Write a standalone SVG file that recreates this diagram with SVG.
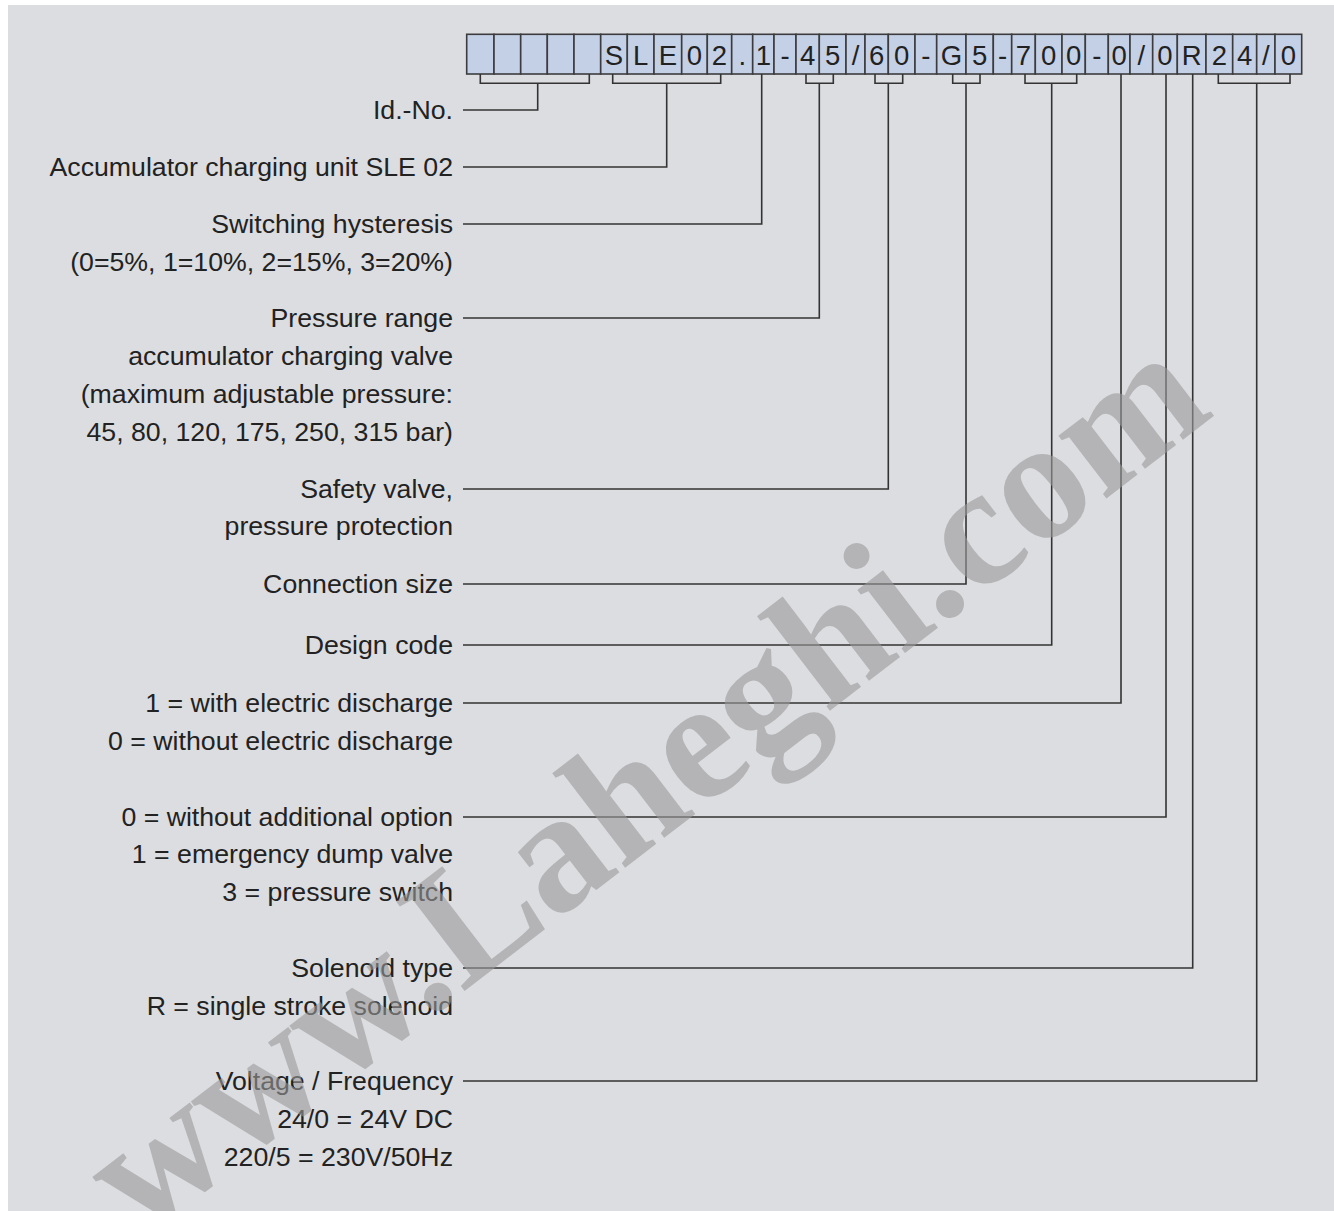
<svg xmlns="http://www.w3.org/2000/svg" width="1334" height="1211" viewBox="0 0 1334 1211">
<style>
.cell{fill:#c4d0e5;stroke:#3c3c3e;stroke-width:1.6}
.ch{font-family:"Liberation Sans",Arial,sans-serif;font-size:27.5px;fill:#222;text-anchor:middle}
.lbl{font-family:"Liberation Sans",Arial,sans-serif;font-size:26.7px;fill:#222;text-anchor:end}
.ln{fill:none;stroke:#333;stroke-width:1.6}
.wm{font-family:"Liberation Serif","Times New Roman",serif;font-weight:bold;font-size:172px;fill:#9a9a9a;fill-opacity:0.6}
</style>
<rect x="8" y="5" width="1326" height="1206" fill="#dcdde0"/>
<g id="code">
<rect class="cell" x="466.7" y="34.3" width="27.3" height="39.7"/>
<rect class="cell" x="494" y="34.3" width="26.7" height="39.7"/>
<rect class="cell" x="520.7" y="34.3" width="26.6" height="39.7"/>
<rect class="cell" x="547.3" y="34.3" width="26.7" height="39.7"/>
<rect class="cell" x="574" y="34.3" width="26.7" height="39.7"/>
<rect class="cell" x="600.7" y="34.3" width="26.6" height="39.7"/>
<rect class="cell" x="627.3" y="34.3" width="26.7" height="39.7"/>
<rect class="cell" x="654" y="34.3" width="27.7" height="39.7"/>
<rect class="cell" x="681.7" y="34.3" width="25.6" height="39.7"/>
<rect class="cell" x="707.3" y="34.3" width="24.4" height="39.7"/>
<rect class="cell" x="731.7" y="34.3" width="21" height="39.7"/>
<rect class="cell" x="752.7" y="34.3" width="21.3" height="39.7"/>
<rect class="cell" x="774" y="34.3" width="22" height="39.7"/>
<rect class="cell" x="796" y="34.3" width="23.3" height="39.7"/>
<rect class="cell" x="819.3" y="34.3" width="26.7" height="39.7"/>
<rect class="cell" x="846" y="34.3" width="19" height="39.7"/>
<rect class="cell" x="865" y="34.3" width="23.3" height="39.7"/>
<rect class="cell" x="888.3" y="34.3" width="26.7" height="39.7"/>
<rect class="cell" x="915" y="34.3" width="21.7" height="39.7"/>
<rect class="cell" x="936.7" y="34.3" width="29.3" height="39.7"/>
<rect class="cell" x="966" y="34.3" width="27.3" height="39.7"/>
<rect class="cell" x="993.3" y="34.3" width="18.4" height="39.7"/>
<rect class="cell" x="1011.7" y="34.3" width="23.6" height="39.7"/>
<rect class="cell" x="1035.3" y="34.3" width="26.7" height="39.7"/>
<rect class="cell" x="1062" y="34.3" width="23.3" height="39.7"/>
<rect class="cell" x="1085.3" y="34.3" width="23" height="39.7"/>
<rect class="cell" x="1108.3" y="34.3" width="21.7" height="39.7"/>
<rect class="cell" x="1130" y="34.3" width="22.7" height="39.7"/>
<rect class="cell" x="1152.7" y="34.3" width="24.6" height="39.7"/>
<rect class="cell" x="1177.3" y="34.3" width="28.7" height="39.7"/>
<rect class="cell" x="1206" y="34.3" width="26.7" height="39.7"/>
<rect class="cell" x="1232.7" y="34.3" width="24" height="39.7"/>
<rect class="cell" x="1256.7" y="34.3" width="18.3" height="39.7"/>
<rect class="cell" x="1275" y="34.3" width="26.7" height="39.7"/>
<text class="ch" x="614" y="64.5">S</text>
<text class="ch" x="640.7" y="64.5">L</text>
<text class="ch" x="667.9" y="64.5">E</text>
<text class="ch" x="694.5" y="64.5">0</text>
<text class="ch" x="719.5" y="64.5">2</text>
<text class="ch" x="742.2" y="64.5">.</text>
<text class="ch" x="763.4" y="64.5">1</text>
<text class="ch" x="785" y="64.5">-</text>
<text class="ch" x="807.7" y="64.5">4</text>
<text class="ch" x="832.7" y="64.5">5</text>
<text class="ch" x="855.5" y="64.5">/</text>
<text class="ch" x="876.7" y="64.5">6</text>
<text class="ch" x="901.7" y="64.5">0</text>
<text class="ch" x="925.9" y="64.5">-</text>
<text class="ch" x="951.4" y="64.5">G</text>
<text class="ch" x="979.7" y="64.5">5</text>
<text class="ch" x="1002.5" y="64.5">-</text>
<text class="ch" x="1023.5" y="64.5">7</text>
<text class="ch" x="1048.7" y="64.5">0</text>
<text class="ch" x="1073.7" y="64.5">0</text>
<text class="ch" x="1096.8" y="64.5">-</text>
<text class="ch" x="1119.2" y="64.5">0</text>
<text class="ch" x="1141.4" y="64.5">/</text>
<text class="ch" x="1165" y="64.5">0</text>
<text class="ch" x="1191.7" y="64.5">R</text>
<text class="ch" x="1219.4" y="64.5">2</text>
<text class="ch" x="1244.7" y="64.5">4</text>
<text class="ch" x="1265.9" y="64.5">/</text>
<text class="ch" x="1288.4" y="64.5">0</text>
</g>
<g id="connectors">
<path class="ln" d="M480.3 74V83.3H589.3V74M537.7 83.3V110H463"/>
<path class="ln" d="M612.7 74V83.3H720.7V74M666.7 83.3V167H463"/>
<path class="ln" d="M761.7 74V224H463"/>
<path class="ln" d="M806 74V83.3H833.3V74M819.3 83.3V318H463"/>
<path class="ln" d="M875 74V83.3H902.7V74M888.3 83.3V489H463"/>
<path class="ln" d="M952.7 74V83.3H980V74M966 83.3V584H463"/>
<path class="ln" d="M1025 74V83.3H1076.7V74M1051.7 83.3V645H463"/>
<path class="ln" d="M1121 74V703H463"/>
<path class="ln" d="M1166 74V817H463"/>
<path class="ln" d="M1192.7 74V968H463"/>
<path class="ln" d="M1218.3 74V83.3H1290V74M1256.7 83.3V1081H463"/>
</g>
<g id="n-idno"><text class="lbl" x="453" y="119">Id.-No.</text></g>
<g id="n-unit"><text class="lbl" x="453" y="176">Accumulator charging unit SLE 02</text></g>
<g id="n-hyst"><text class="lbl" x="453" y="233">Switching hysteresis</text><text class="lbl" x="453" y="271">(0=5%, 1=10%, 2=15%, 3=20%)</text></g>
<g id="n-press"><text class="lbl" x="453" y="327">Pressure range</text><text class="lbl" x="453" y="365">accumulator charging valve</text><text class="lbl" x="453" y="403">(maximum adjustable pressure:</text><text class="lbl" x="453" y="441">45, 80, 120, 175, 250, 315 bar)</text></g>
<g id="n-safety"><text class="lbl" x="453" y="498">Safety valve,</text><text class="lbl" x="453" y="535">pressure protection</text></g>
<g id="n-conn"><text class="lbl" x="453" y="593">Connection size</text></g>
<g id="n-design"><text class="lbl" x="453" y="654">Design code</text></g>
<g id="n-disch"><text class="lbl" x="453" y="712">1 = with electric discharge</text><text class="lbl" x="453" y="750">0 = without electric discharge</text></g>
<g id="n-option"><text class="lbl" x="453" y="826">0 = without additional option</text><text class="lbl" x="453" y="863">1 = emergency dump valve</text><text class="lbl" x="453" y="901">3 = pressure switch</text></g>
<g id="n-sol"><text class="lbl" x="453" y="977">Solenoid type</text><text class="lbl" x="453" y="1015">R = single stroke solenoid</text></g>
<g id="n-volt"><text class="lbl" x="453" y="1090">Voltage / Frequency</text><text class="lbl" x="453" y="1128">24/0 = 24V DC</text><text class="lbl" x="453" y="1166">220/5 = 230V/50Hz</text></g>
<text class="wm" transform="translate(140 1240) rotate(-37.5)">www.Laheghi.com</text>
</svg>
